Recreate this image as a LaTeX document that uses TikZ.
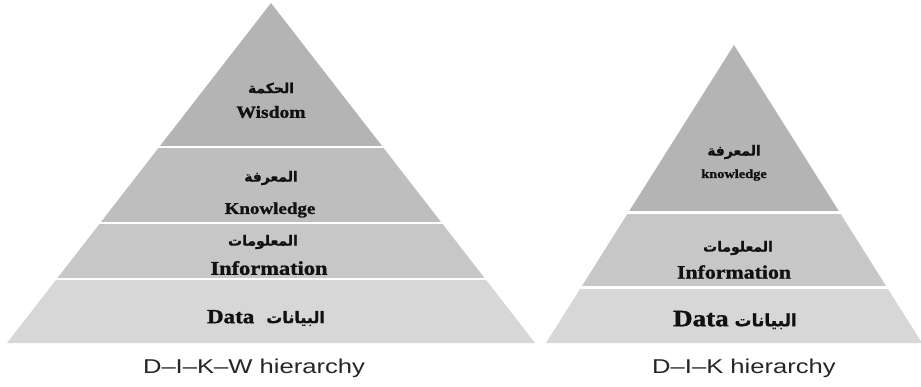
\documentclass[tikz,border=0pt]{standalone}
\usepackage{fontspec}
\TeXXeTstate=1
\setmainfont{Liberation Serif}[FakeStretch=1.15, BoldFeatures={FakeBold=1.2}]
\newfontfamily\arabicfont[Script=Arabic, BoldFeatures={FakeBold=0.8}]{DejaVu Sans}
\newfontfamily\labelfont{Liberation Sans}[FakeStretch=1.28]
\definecolor{bandA}{HTML}{B4B4B4}
\definecolor{bandB}{HTML}{BEBEBE}
\definecolor{bandC}{HTML}{C7C7C7}
\definecolor{bandD}{HTML}{D7D7D7}
\definecolor{txt}{HTML}{111111}
\newcommand{\ar}[1]{{\arabicfont\bfseries\beginR #1\endR}}
\begin{document}
\begin{tikzpicture}[x=1pt,y=-1pt,
  en/.style={font=\bfseries, text=txt, inner sep=0pt},
  arab/.style={text=txt, inner sep=0pt},
  captext/.style={font=\labelfont, text=black!85, inner sep=0pt},
  gap/.style={draw=white, line width=2.6pt}]
\useasboundingbox (0,0) rectangle (921,386);
\fill[white] (0,0) rectangle (921,386);
% ---- left pyramid (D-I-K-W)
\fill[bandA] (271,3) -- (382.8,147) -- (159.2,147) -- cycle;
\fill[bandB] (159.2,147) -- (382.8,147) -- (441.8,223) -- (100.2,223) -- cycle;
\fill[bandC] (100.2,223) -- (441.8,223) -- (485.3,279) -- (56.7,279) -- cycle;
\fill[bandD] (56.7,279) -- (485.3,279) -- (535,343) -- (7,343) -- cycle;
\draw[gap] (150,147) -- (392,147);
\draw[gap] (92,223) -- (450,223);
\draw[gap] (48,279) -- (494,279);
% ---- right pyramid (D-I-K)
\fill[bandA] (734,45) -- (839.7,212.5) -- (628.3,212.5) -- cycle;
\fill[bandC] (628.3,212.5) -- (839.7,212.5) -- (887,287.5) -- (581,287.5) -- cycle;
\fill[bandD] (581,287.5) -- (887,287.5) -- (922,343) -- (546,343) -- cycle;
\draw[gap] (620,212.5) -- (848,212.5);
\draw[gap] (573,287.5) -- (895,287.5);
% ---- left texts
\node[arab, font=\fontsize{14}{16}\selectfont] (lw-ar) at (271,88) {\ar{الحكمة}};
\node[en, font=\bfseries\fontsize{17}{19}\selectfont] (lw-en) at (271,112) {Wisdom};
\node[arab, font=\fontsize{14}{16}\selectfont] (lk-ar) at (271,178) {\ar{المعرفة}};
\node[en, font=\bfseries\fontsize{16.5}{18}\selectfont] (lk-en) at (270,210) {Knowledge};
\node[arab, font=\fontsize{14}{16}\selectfont] (li-ar) at (263,242) {\ar{المعلومات}};
\node[en, font=\bfseries\fontsize{19.5}{21}\selectfont] (li-en) at (269,268) {Information};
\node[en, font=\bfseries\fontsize{20}{22}\selectfont] (ld) at (266,318) {Data\hspace{0.6em}\fontsize{16}{18}\selectfont\ar{البيانات}};
\node[captext, font=\labelfont\fontsize{20}{22}\selectfont] (lcap) at (254,368) {D–I–K–W hierarchy};
% ---- right texts
\node[arab, font=\fontsize{14}{16}\selectfont] (rk-ar) at (734,152) {\ar{المعرفة}};
\node[en, font=\bfseries\fontsize{12.5}{14}\selectfont] (rk-en) at (734,175) {knowledge};
\node[arab, font=\fontsize{14}{16}\selectfont] (ri-ar) at (738,248) {\ar{المعلومات}};
\node[en, font=\bfseries\fontsize{19}{21}\selectfont] (ri-en) at (734,272) {Information};
\node[en, font=\bfseries\fontsize{23.5}{25}\selectfont] (rd) at (735,320) {Data\hspace{0.25em}\fontsize{17}{19}\selectfont\ar{البيانات}};
\node[captext, font=\labelfont\fontsize{20}{22}\selectfont] (rcap) at (744,368) {D–I–K hierarchy};
\end{tikzpicture}
\end{document}
